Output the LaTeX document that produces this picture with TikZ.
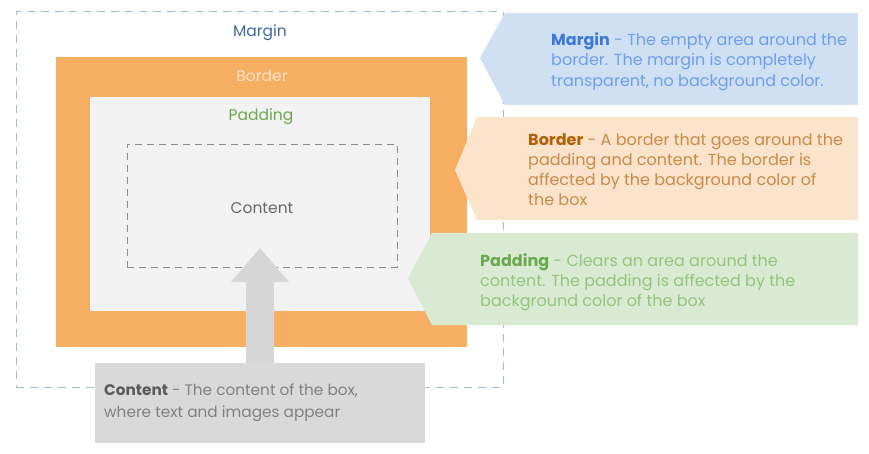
\documentclass[tikz,border=0pt]{standalone}
\usepackage{fontspec}
\setmainfont{Poppins}
\usetikzlibrary{arrows.meta}
\definecolor{mdash}{HTML}{A3BCD6}
\definecolor{borderfill}{HTML}{F6AE62}
\definecolor{padfill}{HTML}{F2F2F2}
\definecolor{cdash}{HTML}{8C8C8C}
\definecolor{arrowgray}{HTML}{D6D6D6}
\definecolor{cboxfill}{HTML}{D9D9D9}
\definecolor{blueback}{HTML}{CFE0F3}
\definecolor{peachback}{HTML}{FBE3CC}
\definecolor{greenback}{HTML}{D9EAD3}
\definecolor{bluebold}{HTML}{3C78D8}
\definecolor{bluetext}{HTML}{6D9EEB}
\definecolor{orangebold}{HTML}{B45F06}
\definecolor{orangetext}{HTML}{C98A45}
\definecolor{greenbold}{HTML}{6AA84F}
\definecolor{greentext}{HTML}{93C47D}
\definecolor{graybold}{HTML}{595959}
\definecolor{graytext}{HTML}{808080}
\definecolor{marginlbl}{HTML}{3D6A9E}
\definecolor{borderlbl}{HTML}{FDE3C8}
\definecolor{contentlbl}{HTML}{666666}
\tikzset{
  rect/.style={inner sep=0pt, outer sep=0pt, anchor=north west},
  lbl/.style={inner sep=0pt, font=\fontsize{15.5}{18}\selectfont},
  desc/.style={inner sep=0pt, anchor=north west, align=left, font=\fontsize{16}{20.5}\selectfont},
}
\begin{document}
\begin{tikzpicture}[x=1pt,y=-1pt]
\useasboundingbox (0,0) rectangle (869,454);
% margin area
\node[rect, draw=mdash, dash pattern=on 8pt off 6pt, line width=1pt, minimum width=487pt, minimum height=375pt] (margin) at (16,12) {};
% border
\node[rect, fill=borderfill, minimum width=411pt, minimum height=290pt] (border) at (56,57) {};
% padding
\node[rect, fill=padfill, minimum width=340pt, minimum height=214pt] (padding) at (90,97) {};
% content dashed
\node[rect, draw=cdash, dash pattern=on 7pt off 5pt, line width=0.9pt, minimum width=270pt, minimum height=123pt] (content) at (127,144) {};
% labels
\node[lbl, text=marginlbl] (mlbl) at (260,33) {Margin};
\node[lbl, text=borderlbl] (blbl) at (262,76) {Border};
\node[lbl, text=greenbold] (plbl) at (261,117) {Padding};
\node[lbl, text=contentlbl] (clbl) at (262,208) {Content};
% content callout box
\node[rect, fill=cboxfill, minimum width=330pt, minimum height=80pt] (cbox) at (95,363) {};
\node[desc, text=graytext, font=\fontsize{15.3}{21.5}\selectfont] (ctext) at (104,384) {\textcolor{graybold}{\textbf{Content}} - The content of the box,\\where text and images appear};
% arrow
\draw[arrowgray, line width=28pt, -{Triangle[width=56pt,length=34pt]}] (cbox.north -| 260,0) -- (260,248);
% callouts
\fill[blueback] (505,13) -- (858,13) -- (858,105) -- (505,105) -- (480,58) -- cycle;
\node[desc, text=bluetext] (mtext) at (551,32) {\textcolor{bluebold}{\textbf{Margin}} - The empty area around the\\border. The margin is completely\\transparent, no background color.};
\fill[peachback] (477,117) -- (858,117) -- (858,220) -- (477,220) -- (455,170) -- cycle;
\node[desc, text=orangetext, font=\fontsize{16}{20}\selectfont] (btext) at (528,133) {\textcolor{orangebold}{\textbf{Border}} - A border that goes around the\\padding and content. The border is\\affected by the background color of\\the box};
\fill[greenback] (432,233) -- (858,233) -- (858,325) -- (432,325) -- (408,278) -- cycle;
\node[desc, text=greentext, font=\fontsize{16}{20}\selectfont] (ptext) at (480,253) {\textcolor{greenbold}{\textbf{Padding}} - Clears an area around the\\content. The padding is affected by the\\background color of the box};
\end{tikzpicture}
\end{document}
